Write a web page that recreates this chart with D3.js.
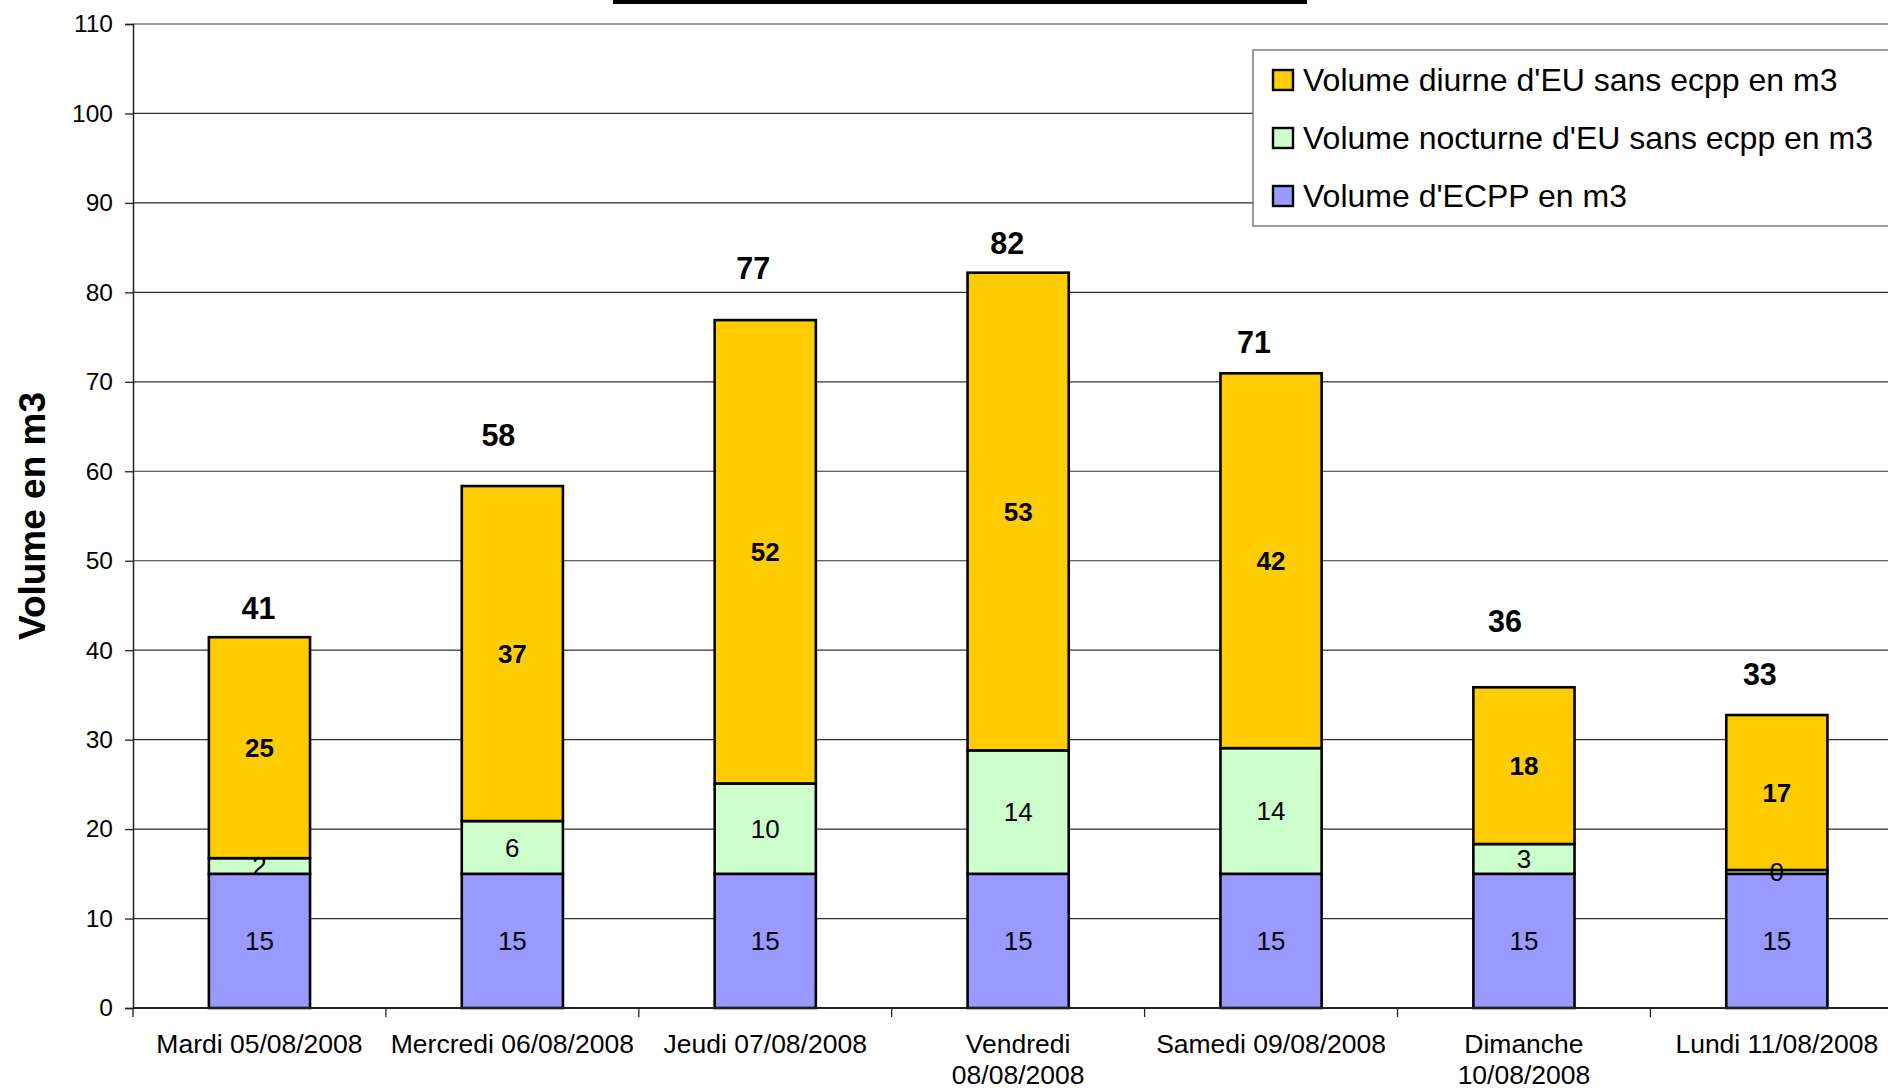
<!DOCTYPE html>
<html>
<head>
<meta charset="utf-8">
<script src="https://cdn.jsdelivr.net/npm/d3@7"></script>
<style>
  body { margin: 0; background: #fff; }
  svg { display: block; font-family: "Liberation Sans", Arial, sans-serif; }
</style>
</head>
<body>
<svg id="chart" width="1888" height="1090"></svg>
<script>
"use strict";

// categories (a "\n" marks where Excel wrapped the label)
const categories = [
  "Mardi 05/08/2008",
  "Mercredi 06/08/2008",
  "Jeudi 07/08/2008",
  "Vendredi\n08/08/2008",
  "Samedi 09/08/2008",
  "Dimanche\n10/08/2008",
  "Lundi 11/08/2008"
];

// m3 per day, stacked bottom to top
const ecpp     = [15, 15, 15, 15, 15, 15, 15];
const nocturne = [1.75, 5.9, 10.1, 13.8, 14.05, 3.33, 0.43];
const diurne   = [24.7, 37.45, 51.8, 53.4, 41.9, 17.52, 17.32];

const seriesNames = [
  "Volume d'ECPP en m3",
  "Volume nocturne d'EU sans ecpp en m3",
  "Volume diurne d'EU sans ecpp en m3"
];
const yTicks = [0, 10, 20, 30, 40, 50, 60, 70, 80, 90, 100, 110];

const colors = ["#9999FF", "#CCFFCC", "#FFCC00"];

class VolumeChart {
  constructor() {
    this.svg = d3.select("#chart");
    this.left = 133;
    this.top = 24;
    this.bottom = 1008;
    this.right = 133 + 7 * 252.9;

    this.x = d3.scaleBand()
      .domain(categories)
      .range([this.left, this.right])
      .paddingInner(0.6)
      .paddingOuter(0.3);

    this.y = d3.scaleLinear()
      .domain([0, 110])
      .range([this.bottom, this.top]);

    this.rows = categories.map((c, i) => ({
      cat: c, ecpp: ecpp[i], nocturne: nocturne[i], diurne: diurne[i]
    }));
    this.stack = d3.stack().keys(["ecpp", "nocturne", "diurne"])(this.rows);

    this.drawTitleBar();
    this.drawGrid();
    this.drawBars();
    this.drawAxes();
    this.drawLabels();
    this.drawLegend();
  }

  drawTitleBar() {
    // bottom edge of the (cropped) title box
    this.svg.append("rect")
      .attr("x", 613).attr("y", 0)
      .attr("width", 694).attr("height", 4)
      .attr("fill", "#000");
  }

  drawGrid() {
    this.svg.append("g")
      .selectAll("line").data(yTicks.filter(t => t > 0))
      .enter().append("line")
      .attr("x1", this.left).attr("x2", 1888)
      .attr("y1", d => this.y(d)).attr("y2", d => this.y(d))
      .attr("stroke", "#333").attr("stroke-width", 1.2);
  }

  drawBars() {
    let g = this.svg.append("g");
    this.stack.forEach((layer, k) => {
      g.selectAll(".s" + k).data(layer)
        .enter().append("rect")
        .attr("class", "s" + k)
        .attr("x", d => this.x(d.data.cat))
        .attr("y", d => this.y(d[1]))
        .attr("width", this.x.bandwidth())
        .attr("height", d => this.y(d[0]) - this.y(d[1]))
        .attr("fill", colors[k])
        .attr("stroke", "#000")
        .attr("stroke-width", 2.6);
    });
  }

  drawAxes() {
    let yAxis = this.svg.append("g")
      .attr("transform", "translate(" + this.left + ",0)")
      .call(d3.axisLeft(this.y).tickValues(yTicks).tickSize(8).tickPadding(12));
    yAxis.select(".domain").attr("stroke", "#222").attr("stroke-width", 1.5);
    yAxis.selectAll(".tick line").attr("stroke", "#222").attr("stroke-width", 1.3);
    yAxis.selectAll("text")
      .attr("font-size", 24.5).attr("fill", "#000")
      .attr("font-family", "Liberation Sans, Arial, sans-serif");

    // x axis: baseline and ticks between categories
    let step = this.x.step();
    let xTicks = d3.range(categories.length + 1).map(i => this.left + i * step);
    let xg = this.svg.append("g");
    xg.append("line")
      .attr("x1", this.left).attr("x2", 1888)
      .attr("y1", this.bottom).attr("y2", this.bottom)
      .attr("stroke", "#222").attr("stroke-width", 2);
    xg.selectAll(".xt").data(xTicks)
      .enter().append("line")
      .attr("class", "xt")
      .attr("x1", d => d).attr("x2", d => d)
      .attr("y1", this.bottom).attr("y2", this.bottom + 9)
      .attr("stroke", "#222").attr("stroke-width", 1.3);

    let cats = xg.selectAll(".cat").data(categories)
      .enter().append("text")
      .attr("class", "cat")
      .attr("x", d => this.x(d) + this.x.bandwidth() / 2)
      .attr("y", 1053)
      .attr("text-anchor", "middle")
      .attr("font-size", 26.5);
    cats.selectAll("tspan").data(d => d.split("\n"))
      .enter().append("tspan")
      .attr("x", function() { return d3.select(this.parentNode).attr("x"); })
      .attr("dy", (d, i) => i ? 31 : 0)
      .text(d => d);

    this.svg.append("text")
      .attr("transform", "translate(45,516) rotate(-90)")
      .attr("text-anchor", "middle")
      .attr("font-size", 37)
      .attr("font-weight", "bold")
      .text("Volume en m3");
  }

  drawLabels() {
    let fmt = d3.format(".0f");
    let g = this.svg.append("g");
    this.stack.forEach((layer, k) => {
      g.selectAll(".l" + k).data(layer)
        .enter().append("text")
        .attr("x", d => this.x(d.data.cat) + this.x.bandwidth() / 2)
        .attr("y", d => (this.y(d[0]) + this.y(d[1])) / 2)
        .attr("dy", "0.36em")
        .attr("text-anchor", "middle")
        .attr("font-size", 26)
        .attr("font-weight", k == 2 ? "bold" : "normal")
        .text(d => fmt(d[1] - d[0]));
    });

    // totals were dragged by hand in the original, nudge them the same way
    let nudgeX = [-1, -14, -12, -11, -17, -19, -17],
        nudgeY = [-29, -51, -52, -30, -31, -66, -41];
    g.selectAll(".tot").data(this.stack[2])
      .enter().append("text")
      .attr("x", (d, i) => this.x(d.data.cat) + this.x.bandwidth() / 2 + nudgeX[i])
      .attr("y", (d, i) => this.y(d[1]) + nudgeY[i])
      .attr("dy", "0.36em")
      .attr("text-anchor", "middle")
      .attr("font-size", 30.5)
      .attr("font-weight", "bold")
      .text(d => fmt(d[1]));
  }

  drawLegend() {
    let lg = this.svg.append("g").attr("transform", "translate(1253,50)");
    lg.append("rect")
      .attr("x", 0).attr("y", 0)
      .attr("width", 700).attr("height", 176)
      .attr("fill", "#fff")
      .attr("stroke", "#666").attr("stroke-width", 1.3);

    let order = [2, 1, 0];
    let items = lg.selectAll(".item").data(order)
      .enter().append("g")
      .attr("transform", (d, i) => "translate(20," + (30 + i * 58) + ")");
    items.append("rect")
      .attr("x", 0).attr("y", -10)
      .attr("width", 20).attr("height", 20)
      .attr("fill", d => colors[d])
      .attr("stroke", "#000").attr("stroke-width", 2.4);
    items.append("text")
      .attr("x", 30).attr("y", 0)
      .attr("dy", "0.355em")
      .attr("font-size", 32)
      .text(d => seriesNames[d]);
  }
}

new VolumeChart();
</script>
</body>
</html>
